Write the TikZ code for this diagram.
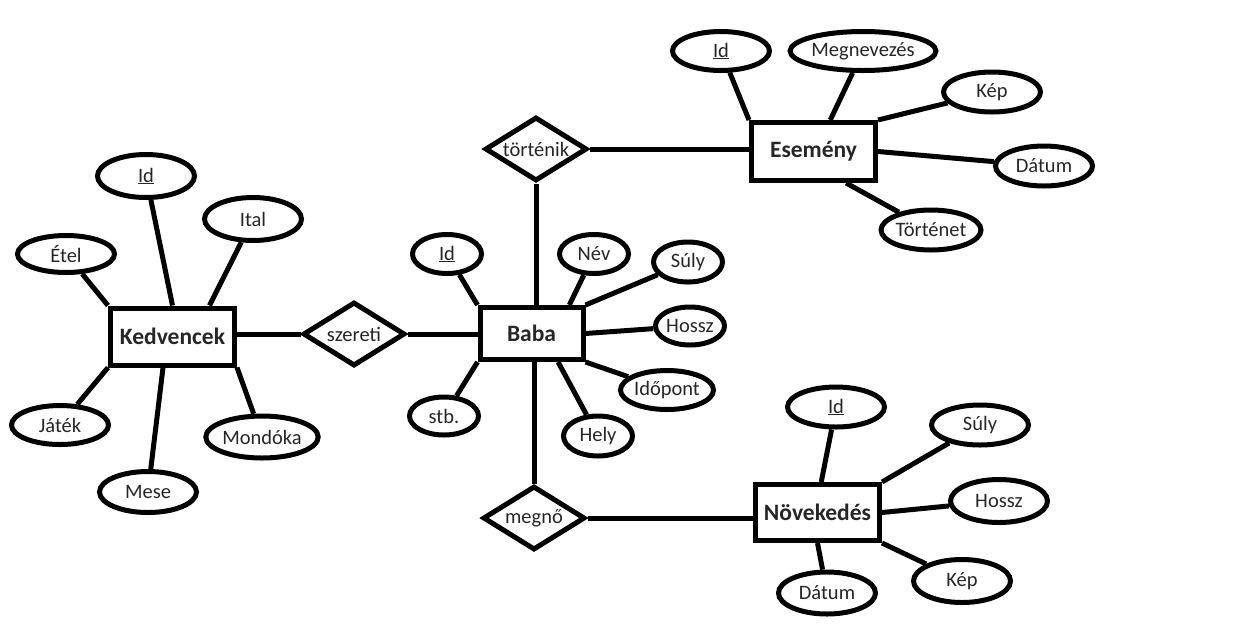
\documentclass[tikz,border=0pt]{standalone}
\usepackage{fontspec}
\setmainfont{Carlito}
\usetikzlibrary{shapes.geometric}
\begin{document}
\begin{tikzpicture}[x=1pt,y=-1pt,
  attr/.style={ellipse, draw, line width=5pt, inner sep=0pt, fill=white,
    text=black!85, font=\fontsize{20.5}{24}\selectfont},
  ent/.style={rectangle, draw, line width=5pt, inner sep=0pt, fill=white,
    text=black!85, font=\fontsize{23.5}{28}\selectfont\bfseries},
  rel/.style={diamond, draw, line width=5pt, inner sep=0pt, aspect=1.6, fill=white,
    minimum width=102pt, minimum height=64pt, text=black!85,
    font=\fontsize{20.5}{24}\selectfont},
  link/.style={line width=5pt},
  big/.style={minimum width=97pt, minimum height=41pt},
  small/.style={minimum width=69pt, minimum height=39pt},
  mid/.style={minimum width=97pt, minimum height=40pt}]
\useasboundingbox (0,0) rectangle (1249,633);

% entities
\node[ent, minimum width=124pt, minimum height=57pt] (kedv) at (172.5,336.5) {Kedvencek};
\node[ent, minimum width=103pt, minimum height=52pt] (baba) at (531.5,333.5) {Baba};
\node[ent, minimum width=124pt, minimum height=58pt] (esem) at (813.5,151.5) {Esemény};
\node[ent, minimum width=124pt, minimum height=56pt] (nov) at (817.5,512.5) {Növekedés};

% relationships
\node[rel] (szer) at (354,334) {szereti};
\node[rel] (tort) at (536,149) {történik};
\node[rel] (megn) at (534,518) {megnő};

% attributes of Kedvencek
\node[attr, big, minimum height=43pt] (kid) at (146,176) {\underline{Id}};
\node[attr, big, minimum height=43pt] (kital) at (253,219) {Ital};
\node[attr, big, minimum height=37pt] (ketel) at (66,254) {Étel};
\node[attr, big, minimum height=39pt] (kjat) at (60,425) {Játék};
\node[attr, big] (kmese) at (148,492) {Mese};
\node[attr, big, minimum height=42pt] (kmond) at (262,437) {Mondóka};

% attributes of Baba
\node[attr, small] (bid) at (447,254) {\underline{Id}};
\node[attr, small] (bnev) at (594,254) {Név};
\node[attr, small, minimum height=40pt] (bsuly) at (688,262) {Súly};
\node[attr, small, minimum height=38pt] (bhossz) at (690,326) {Hossz};
\node[attr, small] (bido) at (667,390) {Időpont};
\node[attr, small, minimum height=40pt] (bhely) at (598,436) {Hely};
\node[attr, small, minimum height=38pt] (bstb) at (444,416) {stb.};

% attributes of Esemény
\node[attr, mid, minimum height=39pt] (eid) at (721,51) {\underline{Id}};
\node[attr, mid, minimum width=113pt, minimum height=39pt] (emeg) at (863,51) {Megnevezés};
\node[attr, mid] (ekep) at (992,92) {Kép};
\node[attr, mid] (edat) at (1044,166) {Dátum};
\node[attr, mid] (etort) at (931,230) {Történet};

% attributes of Növekedés
\node[attr, mid] (nid) at (836,407) {\underline{Id}};
\node[attr, mid] (nsuly) at (980,425) {Súly};
\node[attr, mid, minimum height=43pt] (nhossz) at (999,501) {Hossz};
\node[attr, mid, minimum height=43pt] (nkep) at (962,581) {Kép};
\node[attr, mid, minimum height=42pt] (ndat) at (827,593) {Dátum};

% relationship links
\draw[link] (kedv.east |- szer.west) -- (szer.west);
\draw[link] (szer.east) -- (szer.east -| baba.west);
\draw[link] (tort.south) -- (tort.south |- baba.north);
\draw[link] (tort.east) -- (tort.east -| esem.west);
\draw[link] (megn.north) -- (megn.north |- baba.south);
\draw[link] (megn.east) -- (megn.east -| nov.west);

% attribute links
\draw[link] (kedv.north west) -- (ketel);
\draw[link] (kedv.north) -- (kid);
\draw[link] (kedv.40) -- (kital);
\draw[link] (kedv.south west) -- (kjat);
\draw[link] (kedv.-107) -- (kmese);
\draw[link] (kedv.south east) -- (kmond);

\draw[link] (baba.north west) -- (bid);
\draw[link] (baba.37) -- (bnev);
\draw[link] (baba.north east) -- (bsuly);
\draw[link] (baba.east) -- (bhossz);
\draw[link] (baba.south east) -- (bido);
\draw[link] (baba.-47) -- (bhely);
\draw[link] (baba.south west) -- (bstb);

\draw[link] (esem.north west) -- (eid);
\draw[link] (esem.62) -- (emeg);
\draw[link] (esem.north east) -- (ekep);
\draw[link] (esem.east) -- (edat);
\draw[link] (esem.-44) -- (etort);

\draw[link] (nov.83) -- (nid);
\draw[link] (nov.north east) -- (nsuly);
\draw[link] (nov.east) -- (nhossz);
\draw[link] (nov.south east) -- (nkep);
\draw[link] (nov.south) -- (ndat);
\end{tikzpicture}
\end{document}
